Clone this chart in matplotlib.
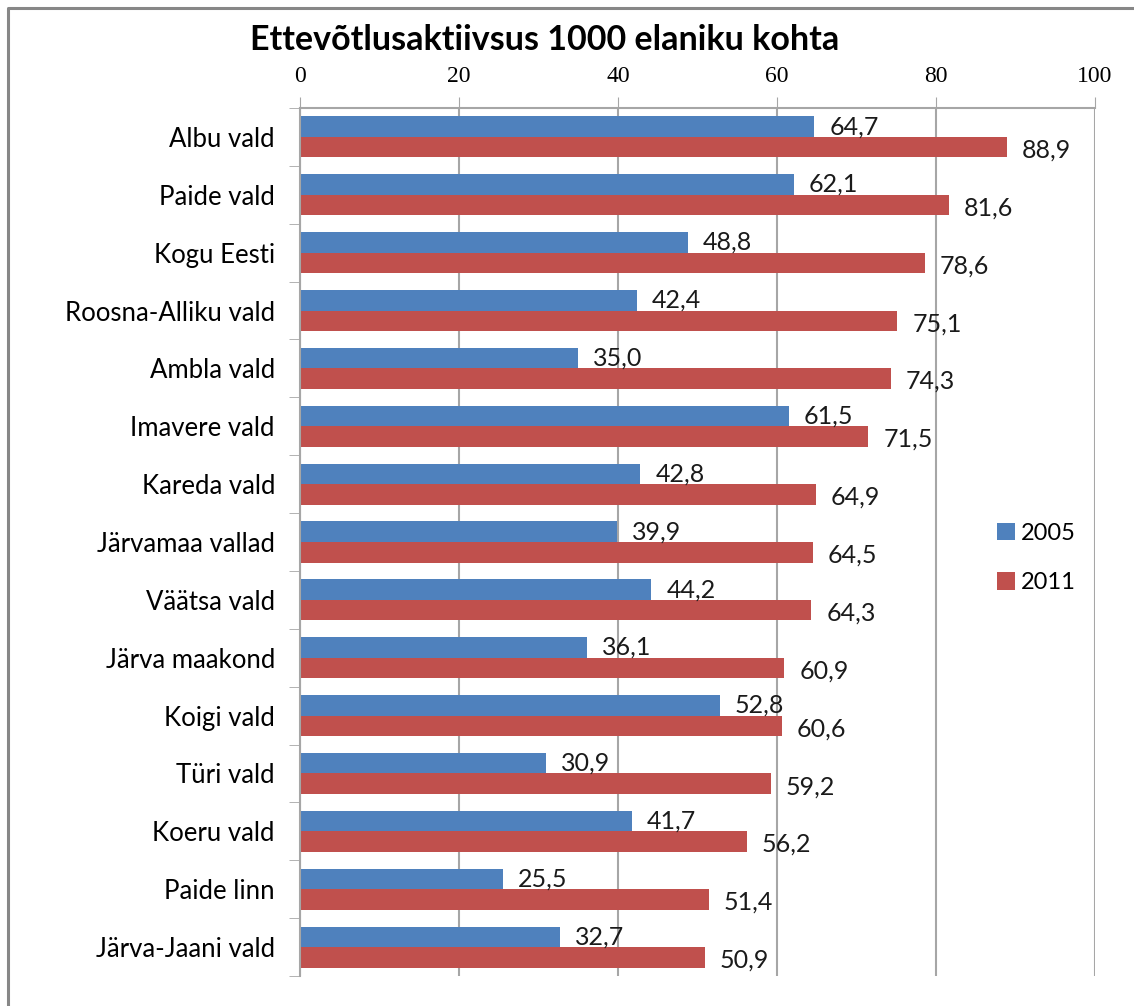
import matplotlib
matplotlib.use('Agg')
import matplotlib.pyplot as plt
import numpy as np
from matplotlib.lines import Line2D

plt.rcParams['font.family'] = ['Lato', 'DejaVu Sans']

categories = ['Albu vald', 'Paide vald', 'Kogu Eesti', 'Roosna-Alliku vald',
              'Ambla vald', 'Imavere vald', 'Kareda vald', 'Järvamaa vallad',
              'Väätsa vald', 'Järva maakond', 'Koigi vald', 'Türi vald',
              'Koeru vald', 'Paide linn', 'Järva-Jaani vald']
v2005 = [64.7, 62.1, 48.8, 42.4, 35.0, 61.5, 42.8, 39.9, 44.2, 36.1,
         52.8, 30.9, 41.7, 25.5, 32.7]
v2011 = [88.9, 81.6, 78.6, 75.1, 74.3, 71.5, 64.9, 64.5, 64.3, 60.9,
         60.6, 59.2, 56.2, 51.4, 50.9]
xticks = [0, 20, 40, 60, 80, 100]

c_blue = '#4F81BD'
c_red = '#C0504D'
grey = '#A6A6A6'

fig = plt.figure(figsize=(11.34, 10.06), dpi=100)
# outer chart border (only left and top edges are in view)
bx, by = 8 / 1134, 1 - 8 / 1006
fig.lines.append(Line2D([bx, bx, 1.0], [0.0, by, by], transform=fig.transFigure,
                        color='#878787', linewidth=2.2))

ax = fig.add_axes([300 / 1134, 1 - 976 / 1006, 795 / 1134, (976 - 108) / 1006])

y = np.arange(len(categories))
h = 0.355
ax.barh(y - h / 2, v2005, height=h, color=c_blue, label='2005')
ax.barh(y + h / 2, v2011, height=h, color=c_red, label='2011')

for i in range(len(categories)):
    ax.text(v2005[i] + 1.9, y[i] - h / 2, f'{v2005[i]:.1f}'.replace('.', ','),
            va='center', ha='left', fontsize=18, color='#1a1a1a')
    ax.text(v2011[i] + 1.9, y[i] + h / 2 + 0.05, f'{v2011[i]:.1f}'.replace('.', ','),
            va='center', ha='left', fontsize=18, color='#1a1a1a')

ax.set_xlim(0, 100)
ax.set_ylim(len(categories) - 0.5, -0.5)
ax.set_xticks(xticks)
ax.xaxis.tick_top()
ax.set_xticklabels([str(t) for t in xticks], fontsize=17, family='Liberation Serif')
ax.tick_params(axis='x', length=8, color=grey, pad=7)
ax.set_yticks(y)
ax.set_yticklabels(categories, fontsize=18.5)
ax.set_yticks(np.arange(len(categories) + 1) - 0.5, minor=True)
ax.tick_params(axis='y', which='major', length=0, pad=18)
ax.tick_params(axis='y', which='minor', length=8, color=grey)
ax.grid(axis='x', color=grey, linewidth=1.5)
ax.set_axisbelow(True)
for s in ['right', 'bottom']:
    ax.spines[s].set_visible(False)
for s in ['left', 'top']:
    ax.spines[s].set_color(grey)
    ax.spines[s].set_linewidth(1.5)

fig.legend(loc='center left', bbox_to_anchor=(976 / 1134, 1 - 558 / 1006),
           frameon=False, fontsize=17, handlelength=0.75, handleheight=0.75,
           handletextpad=0.25, labelspacing=1.2)

fig.text(545 / 1134, 1 - 40 / 1006, 'Ettevõtlusaktiivsus 1000 elaniku kohta',
         ha='center', va='center', fontsize=24.5, fontweight='bold')

fig.savefig('out.png', dpi=100)
